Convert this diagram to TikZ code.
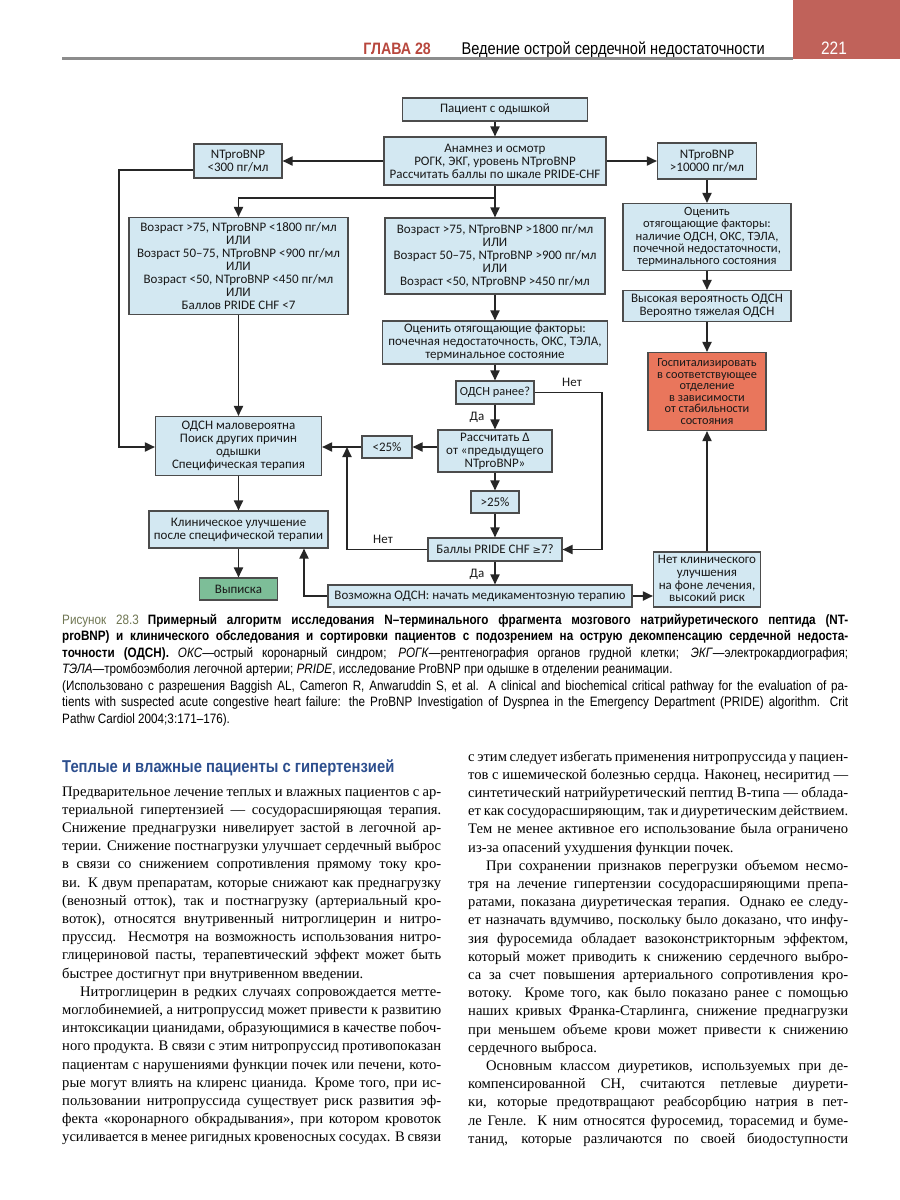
\documentclass[tikz,border=0pt]{standalone}
\usepackage{fontspec}
\setmainfont{Liberation Serif}
\newfontfamily\fcfont{Carlito}
\newfontfamily\capfont[FakeStretch=0.86]{Liberation Sans}
\newfontfamily\symfont{DejaVu Sans}
\usetikzlibrary{arrows.meta}
\definecolor{boxblue}{HTML}{D3E8F2}
\definecolor{boxred}{HTML}{E9765C}
\definecolor{boxgreen}{HTML}{7DBE98}
\definecolor{hdrred}{HTML}{C0625A}
\definecolor{glred}{HTML}{B8473D}
\definecolor{headblue}{HTML}{2D4F8E}
\definecolor{figolive}{HTML}{6F7652}
\newcommand\mygeq{{\symfont\fontsize{10}{12}\selectfont ≥}}
\newcommand\J[2]{\makebox[#1][s]{#2}}
\begin{document}
\begin{tikzpicture}[x=1pt,y=-1pt,
  fbox/.style={draw=black!70, line width=1.1pt, fill=boxblue, inner sep=0pt, align=center,
     font=\fcfont\fontsize{13}{12.9}\selectfont, text=black!90},
  arr/.style={line width=1.8pt, draw=black!85, -{Triangle[length=10pt,width=9pt]}},
  lbl/.style={font=\fcfont\fontsize{13}{13}\selectfont, inner sep=0pt, text=black!90},
  capl/.style={anchor=base west, inner sep=0pt, font=\capfont\fontsize{13.6}{16}\selectfont},
  bodyl/.style={anchor=base west, inner sep=0pt, font=\fontsize{14.6}{18}\selectfont},
]
\path[use as bounding box] (0,0) rectangle (900,1200);
\fill[white] (0,0) rectangle (900,1200);

% ---------- header
\node[fill=hdrred, inner sep=0pt, minimum width=107pt, minimum height=59pt, anchor=north west] (pgbox) at (793,0) {};
\node[anchor=base, inner sep=0pt, text=white, font=\capfont\fontsize{18}{20}\selectfont] (pgnum) at (834,54) {221};
\node[anchor=base east, inner sep=0pt, text=glred, font=\capfont\bfseries\fontsize{16.5}{20}\selectfont] (chap) at (431,54) {ГЛАВА 28};
\node[anchor=base east, inner sep=0pt, font=\capfont\fontsize{17}{20}\selectfont] (chtitle) at (765,54) {Ведение острой сердечной недостаточности};
\draw[line width=3pt, black!45] (62,58.5) -- (793,58.5);

% ---------- flowchart boxes
\node[fbox, minimum width=185pt, minimum height=23pt] (b1) at (495,109.5) {Пациент с одышкой};
\node[fbox, minimum width=222pt, minimum height=48pt] (b2) at (495,161) {Анамнез и осмотр\\РОГК, ЭКГ, уровень NTproBNP\\Рассчитать баллы по шкале PRIDE-CHF};
\node[fbox, minimum width=88pt, minimum height=34pt] (b3) at (238,161) {NTproBNP\\<300 пг/мл};
\node[fbox, minimum width=99pt, minimum height=36pt] (b4) at (707,161) {NTproBNP\\>10000 пг/мл};
\node[fbox, minimum width=219pt, minimum height=97pt] (b5) at (238.5,266) {Возраст >75, NTproBNP <1800 пг/мл\\ИЛИ\\Возраст 50–75, NTproBNP <900 пг/мл\\ИЛИ\\Возраст <50, NTproBNP <450 пг/мл\\ИЛИ\\Баллов PRIDE CHF <7};
\node[fbox, minimum width=220pt, minimum height=76pt] (b6) at (495,256) {Возраст >75, NTproBNP >1800 пг/мл\\ИЛИ\\Возраст 50–75, NTproBNP >900 пг/мл\\ИЛИ\\Возраст <50, NTproBNP >450 пг/мл};
\node[fbox, minimum width=168pt, minimum height=67pt, font=\fcfont\fontsize{12.6}{12.4}\selectfont] (b7) at (707,237) {Оценить\\отягощающие факторы:\\наличие ОДСН, ОКС, ТЭЛА,\\почечной недостаточности,\\терминального состояния};
\node[fbox, minimum width=168pt, minimum height=31pt] (b8) at (707,306) {Высокая вероятность ОДСН\\Вероятно тяжелая ОДСН};
\node[fbox, fill=boxred, minimum width=118pt, minimum height=78pt, font=\fcfont\fontsize{12.3}{11.6}\selectfont] (b9) at (707,391.5) {Госпитализировать\\в соответствующее\\отделение\\в зависимости\\от стабильности\\состояния};
\node[fbox, minimum width=225pt, minimum height=43pt] (b10) at (495,342.5) {Оценить отягощающие факторы:\\почечная недостаточность, ОКС, ТЭЛА,\\терминальное состояние};
\node[fbox, minimum width=78pt, minimum height=23pt, font=\fcfont\fontsize{12.4}{13}\selectfont] (b11) at (495,392.5) {ОДСН ранее?};
\node[fbox, minimum width=114pt, minimum height=42pt] (b12) at (495,451) {Рассчитать Δ\\от «предыдущего\\NTproBNP»};
\node[fbox, minimum width=50pt, minimum height=22pt] (b13) at (387,447) {<25\%};
\node[fbox, minimum width=48pt, minimum height=22pt] (b14) at (495,502) {>25\%};
\node[fbox, minimum width=134pt, minimum height=23pt] (b15) at (495,549.5) {Баллы PRIDE CHF \mygeq7?};
\node[fbox, minimum width=304pt, minimum height=22pt] (b16) at (480,596) {Возможна ОДСН: начать медикаментозную терапию};
\node[fbox, minimum width=107pt, minimum height=55pt] (b17) at (707,579.5) {Нет клинического\\улучшения\\на фоне лечения,\\высокий риск};
\node[fbox, minimum width=166pt, minimum height=59pt] (b18) at (238.5,446) {ОДСН маловероятна\\Поиск других причин\\одышки\\Специфическая терапия};
\node[fbox, minimum width=179pt, minimum height=37pt] (b19) at (238.5,529.5) {Клиническое улучшение\\после специфической терапии};
\node[fbox, fill=boxgreen, minimum width=78pt, minimum height=22pt] (b20) at (238.5,589) {Выписка};

% ---------- connectors
\coordinate (br) at (495,198);
\coordinate (lft) at (119,170);
\coordinate (nr) at (602,392.5);
\coordinate (nl) at (347,447);
\coordinate (bl) at (304,596);
\draw[arr] (b1) -- (b2);
\draw[arr] (b2.west) -- (b3.east);
\draw[arr] (b2.east) -- (b4.west);
\draw[arr] (b2.south) -- (b6.north);
\draw[arr] (br) -| (b5.north);
\draw[arr] (b3.west |- lft) -- (lft) |- (b18.west |- b13.west);
\draw[arr] (b5) -- (b18);
\draw[arr] (b4) -- (b7);
\draw[arr] (b7) -- (b8);
\draw[arr] (b8) -- (b9);
\draw[arr] (b6) -- (b10);
\draw[arr] (b10) -- (b11);
\draw[arr] (b11) -- (b12);
\draw[arr] (b11.east) -- (nr) |- (b15.east);
\draw[arr] (b12.west |- b13.east) -- (b13.east);
\draw[arr] (b13.west) -- (b13.west -| b18.east);
\draw[arr] (b12) -- (b14);
\draw[arr] (b14) -- (b15);
\draw[arr] (b15.west) -| (nl);
\draw[arr] (b15.south) -- (b15.south |- b16.north);
\draw[arr] (b16.west) -- (bl) -- (bl |- b19.south);
\draw[arr] (b16.east) -- (b16.east -| b17.west);
\draw[arr] (b17) -- (b9);
\draw[arr] (b18) -- (b19);
\draw[arr] (b19) -- (b20);
\node[lbl] (yes1) at (477,417) {Да};
\node[lbl] (yes2) at (477,574) {Да};
\node[lbl] (no1) at (572,382) {Нет};
\node[lbl] (no2) at (383,539) {Нет};

% ---------- caption
\node[capl] (c1) at (62,624) {\J{786pt}{{\color{figolive}Рисунок 28.3}\hspace{9pt}\bfseries Примерный алгоритм исследования N–терминального фрагмента мозгового натрийуретического пептида (NT-}};
\node[capl] (c2) at (62,640.5) {\J{786pt}{\bfseries proBNP) и клинического обследования и сортировки пациентов с подозрением на острую декомпенсацию сердечной недоста-}};
\node[capl] (c3) at (62,657) {\J{786pt}{\textbf{точности (ОДСН).} \textit{ОКС}—острый коронарный синдром; \textit{РОГК}—рентгенография органов грудной клетки; \textit{ЭКГ}—электрокардиография;}};
\node[capl] (c4) at (62,673.5) {\textit{ТЭЛА}—тромбоэмболия легочной артерии; \textit{PRIDE}, исследование ProBNP при одышке в отделении реанимации.};
\node[capl] (c5) at (62,690) {\J{786pt}{(Использовано с разрешения Baggish AL, Cameron R, Anwaruddin S, et al. A clinical and biochemical critical pathway for the evaluation of pa-}};
\node[capl] (c6) at (62,706.5) {\J{786pt}{tients with suspected acute congestive heart failure: the ProBNP Investigation of Dyspnea in the Emergency Department (PRIDE) algorithm. Crit}};
\node[capl] (c7) at (62,723) {Pathw Cardiol 2004;3:171–176).};

% ---------- heading
\node[anchor=base west, inner sep=0pt, text=headblue, font=\capfont\bfseries\fontsize{17.2}{20}\selectfont] (head) at (62,772) {Теплые и влажные пациенты с гипертензией};

% ---------- left column
\node[bodyl] (l1) at (62,796) {\J{379pt}{Предварительное лечение теплых и влажных пациентов с ар-}};
\node[bodyl] (l2) at (62,814.2) {\J{379pt}{териальной гипертензией — сосудорасширяющая терапия.}};
\node[bodyl] (l3) at (62,832.4) {\J{379pt}{Снижение преднагрузки нивелирует застой в легочной ар-}};
\node[bodyl] (l4) at (62,850.6) {\J{379pt}{терии. Снижение постнагрузки улучшает сердечный выброс}};
\node[bodyl] (l5) at (62,868.8) {\J{379pt}{в связи со снижением сопротивления прямому току кро-}};
\node[bodyl] (l6) at (62,887) {\J{379pt}{ви. К двум препаратам, которые снижают как преднагрузку}};
\node[bodyl] (l7) at (62,905.2) {\J{379pt}{(венозный отток), так и постнагрузку (артериальный кро-}};
\node[bodyl] (l8) at (62,923.4) {\J{379pt}{воток), относятся внутривенный нитроглицерин и нитро-}};
\node[bodyl] (l9) at (62,941.6) {\J{379pt}{пруссид. Несмотря на возможность использования нитро-}};
\node[bodyl] (l10) at (62,959.8) {\J{379pt}{глицериновой пасты, терапевтический эффект может быть}};
\node[bodyl] (l11) at (62,978) {быстрее достигнут при внутривенном введении.};
\node[bodyl] (l12) at (80,996.2) {\J{361pt}{Нитроглицерин в редких случаях сопровождается метте-}};
\node[bodyl] (l13) at (62,1014.4) {\J{379pt}{моглобинемией, а нитропруссид может привести к развитию}};
\node[bodyl] (l14) at (62,1032.6) {\J{379pt}{интоксикации цианидами, образующимися в качестве побоч-}};
\node[bodyl] (l15) at (62,1050.8) {\J{379pt}{ного продукта. В связи с этим нитропруссид противопоказан}};
\node[bodyl] (l16) at (62,1069) {\J{379pt}{пациентам с нарушениями функции почек или печени, кото-}};
\node[bodyl] (l17) at (62,1087.2) {\J{379pt}{рые могут влиять на клиренс цианида. Кроме того, при ис-}};
\node[bodyl] (l18) at (62,1105.4) {\J{379pt}{пользовании нитропруссида существует риск развития эф-}};
\node[bodyl] (l19) at (62,1123.6) {\J{379pt}{фекта «коронарного обкрадывания», при котором кровоток}};
\node[bodyl] (l20) at (62,1141.8) {\J{379pt}{усиливается в менее ригидных кровеносных сосудах. В связи}};

% ---------- right column
\node[bodyl] (r1) at (468,761) {\J{380pt}{с этим следует избегать применения нитропруссида у пациен-}};
\node[bodyl] (r2) at (468,779.2) {\J{380pt}{тов с ишемической болезнью сердца. Наконец, несиритид —}};
\node[bodyl] (r3) at (468,797.4) {\J{380pt}{синтетический натрийуретический пептид В-типа — облада-}};
\node[bodyl] (r4) at (468,815.6) {\J{380pt}{ет как сосудорасширяющим, так и диуретическим действием.}};
\node[bodyl] (r5) at (468,833.8) {\J{380pt}{Тем не менее активное его использование была ограничено}};
\node[bodyl] (r6) at (468,852) {из-за опасений ухудшения функции почек.};
\node[bodyl] (r7) at (486,870.2) {\J{362pt}{При сохранении признаков перегрузки объемом несмо-}};
\node[bodyl] (r8) at (468,888.4) {\J{380pt}{тря на лечение гипертензии сосудорасширяющими препа-}};
\node[bodyl] (r9) at (468,906.6) {\J{380pt}{ратами, показана диуретическая терапия. Однако ее следу-}};
\node[bodyl] (r10) at (468,924.8) {\J{380pt}{ет назначать вдумчиво, поскольку было доказано, что инфу-}};
\node[bodyl] (r11) at (468,943) {\J{380pt}{зия фуросемида обладает вазоконстрикторным эффектом,}};
\node[bodyl] (r12) at (468,961.2) {\J{380pt}{который может приводить к снижению сердечного выбро-}};
\node[bodyl] (r13) at (468,979.4) {\J{380pt}{са за счет повышения артериального сопротивления кро-}};
\node[bodyl] (r14) at (468,997.6) {\J{380pt}{вотоку. Кроме того, как было показано ранее с помощью}};
\node[bodyl] (r15) at (468,1015.8) {\J{380pt}{наших кривых Франка-Старлинга, снижение преднагрузки}};
\node[bodyl] (r16) at (468,1034) {\J{380pt}{при меньшем объеме крови может привести к снижению}};
\node[bodyl] (r17) at (468,1052.2) {сердечного выброса.};
\node[bodyl] (r18) at (486,1070.4) {\J{362pt}{Основным классом диуретиков, используемых при де-}};
\node[bodyl] (r19) at (468,1088.6) {\J{380pt}{компенсированной СН, считаются петлевые диурети-}};
\node[bodyl] (r20) at (468,1106.8) {\J{380pt}{ки, которые предотвращают реабсорбцию натрия в пет-}};
\node[bodyl] (r21) at (468,1125) {\J{380pt}{ле Генле. К ним относятся фуросемид, торасемид и буме-}};
\node[bodyl] (r22) at (468,1143.2) {\J{380pt}{танид, которые различаются по своей биодоступности}};
\end{tikzpicture}
\end{document}
